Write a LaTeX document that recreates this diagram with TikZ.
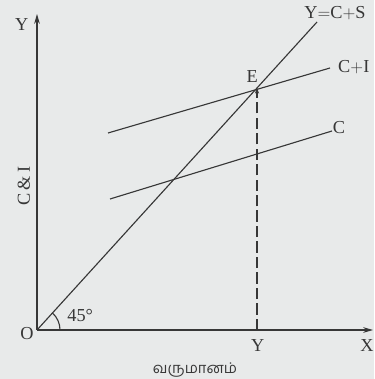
\documentclass[tikz,border=0pt]{standalone}
\usepackage{fontspec}
\setmainfont{Liberation Serif}
\newfontfamily\tamilfont[Script=Tamil]{Hind Madurai}
\usetikzlibrary{arrows.meta}
\definecolor{paper}{RGB}{232,234,234}
\definecolor{ink}{RGB}{55,55,55}
\tikzset{
    curve/.style={ink, thick},
    lbl/.style={ink, font=\fontsize{13}{15}\selectfont, inner sep=1pt}
}
\begin{document}
\begin{tikzpicture}
                % Background and margins
                \fill[paper] (-0.925,-1.225) rectangle (8.425,8.25);
                \useasboundingbox (-0.925,-1.225) rectangle (8.425,8.25);

                \coordinate (O) at (0,0);
                \coordinate (ytip) at (0,7.9);
                \coordinate (xtip) at (8.4,0);
                \coordinate (E) at (5.5,6.05);
                \coordinate (Ybase) at (5.5,0);

                % 45 degree line, C+I and C
                \draw[curve] (O) -- (7.0,7.7);
                \draw[curve] (1.775,4.925) -- (7.325,6.55);
                \draw[curve] (1.825,3.275) -- (7.375,4.975);
                \node[lbl] (ycs) at (7.45,7.93) {Y$=$C$+$S};
                \node[lbl] (ci) at (7.92,6.58) {C$+$I};
                \node[lbl] (c) at (7.55,5.05) {C};

                % Axes
                \draw[curve, -{Stealth[length=7pt,width=4pt]}] (O) -- (ytip);
                \draw[curve, -{Stealth[length=7pt,width=4pt]}] (O) -- (xtip);

                % Equilibrium
                \draw[curve, dash pattern=on 8pt off 3pt, -{Stealth[length=4pt,width=3pt]}] (Ybase) -- (E);
                \node[lbl] (elbl) at (5.38,6.33) {E};

                % Angle
                \draw[curve] (0.575,0) arc (0:48:0.575);
                \node[lbl] (ang) at (1.08,0.35) {45°};

                % Axis labels
                \node[lbl] (olbl) at (-0.25,-0.08) {O};
                \node[lbl] (ytop) at (-0.38,7.63) {Y};
                \node[lbl] (ylbl) at (5.52,-0.38) {Y};
                \node[lbl] (xlbl) at (8.25,-0.38) {X};
                \node[lbl, rotate=90] (cilbl) at (-0.33,3.6) {C\,\&\,I};
                \node[lbl, font=\fontsize{10.5}{12}\selectfont\tamilfont] (income) at (3.95,-1.0) {வருமானம்};
            \end{tikzpicture}
\end{document}
